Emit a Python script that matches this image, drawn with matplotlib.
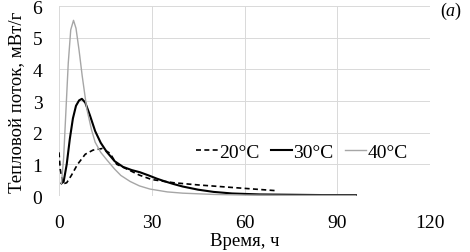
import matplotlib
matplotlib.use("Agg")
import matplotlib.pyplot as plt

plt.rcParams['font.family'] = ['Liberation Serif', 'DejaVu Serif']
plt.rcParams['mathtext.fontset'] = 'custom'
plt.rcParams['mathtext.rm'] = 'Liberation Serif'
plt.rcParams['mathtext.it'] = 'Liberation Serif:italic'

# 20°C
t20 = [0, 0.4, 1.3, 2.5, 4, 6, 8.5, 11, 14, 16.5, 18.7, 22, 26, 30, 37, 45, 56, 63, 70]
q20 = [1.38, 0.85, 0.38, 0.42, 0.65, 1.0, 1.32, 1.45, 1.5, 1.35, 1.0, 0.85, 0.66, 0.52, 0.42, 0.35, 0.27, 0.22, 0.17]

# 30°C
t30 = [0.8, 1.5, 2.5, 3.5, 4.5, 5.5, 6.5, 7.4, 8.5, 10, 11.7, 13.5, 15.4, 18, 20.7, 23.5, 26.2, 29,
       31.6, 34, 37, 40, 45, 50, 56, 65, 75, 85, 96]
q30 = [0.4, 0.45, 1.0, 1.8, 2.45, 2.85, 3.02, 3.07, 2.95, 2.55, 2.05, 1.68, 1.4, 1.1, 0.92, 0.82, 0.75, 0.65,
       0.55, 0.47, 0.38, 0.3, 0.2, 0.13, 0.08, 0.05, 0.04, 0.03, 0.03]

# 40°C
t40 = [0.8, 1.5, 2.2, 3, 3.8, 4.7, 5.5, 6.5, 7.5, 9, 10.5, 11.7, 13.5, 15.4, 18, 20, 23, 26, 29.4, 35,
       40, 50, 60, 75, 96]
q40 = [0.4, 1.2, 2.6, 4.2, 5.25, 5.55, 5.3, 4.6, 3.8, 2.75, 2.1, 1.7, 1.38, 1.15, 0.85, 0.65, 0.46, 0.32,
       0.22, 0.13, 0.09, 0.05, 0.03, 0.02, 0.02]

xticks = [0, 30, 60, 90, 120]
yticks = [0, 1, 2, 3, 4, 5, 6]

fig = plt.figure(figsize=(4.7, 2.53), dpi=100)
ax = fig.add_axes([0.1255, 0.2213, 0.7895, 0.7507])

ax.plot(t20, q20, color='black', linestyle=(0, (3, 2)), linewidth=1.2, label='20°C')
ax.plot(t30, q30, color='black', linewidth=1.5, label='30°C')
ax.plot(t40, q40, color='#a6a6a6', linewidth=1.0, label='40°C')

ax.set_xlim(0, 120)
ax.set_ylim(0, 6)
ax.set_xticks(xticks)
ax.set_yticks(yticks)
ax.grid(True, color='#d9d9d9', linewidth=0.7)
ax.set_axisbelow(True)
for s in ax.spines.values():
    s.set_visible(False)
ax.tick_params(length=0, labelsize=14)
ax.tick_params(axis='x', pad=13)
ax.tick_params(axis='y', pad=12)

ax.set_xlabel('Время, ч', fontsize=13.5, labelpad=1)
ax.set_ylabel('Тепловой поток, мВт/г', fontsize=13.5, labelpad=5)

ax.legend(loc='center', bbox_to_anchor=(0.655, 0.23), ncol=3, frameon=False, fontsize=14,
          handlelength=1.1, handletextpad=0.05, columnspacing=0.6)

fig.text(0.983, 0.955, '$(a)$', ha='right', va='center', fontsize=13)

fig.savefig('out.png', dpi=100)
